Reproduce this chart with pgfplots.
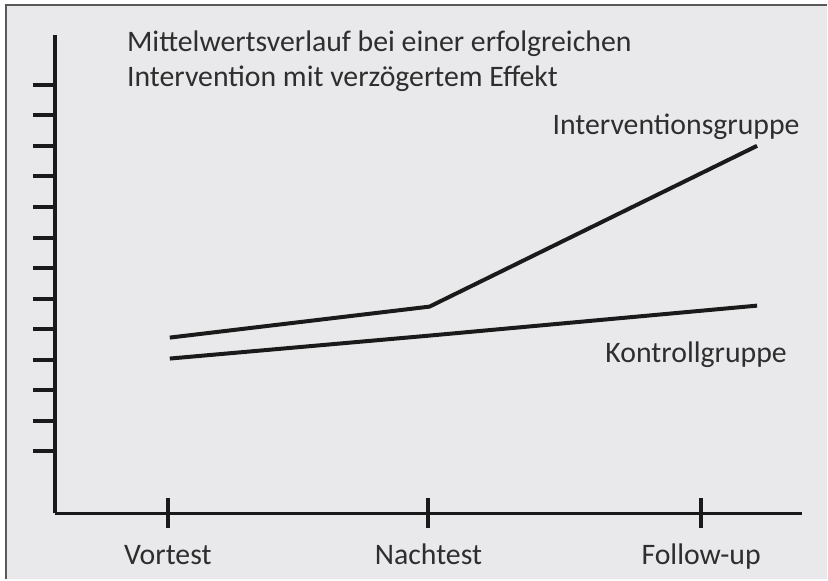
\documentclass[border=0pt]{standalone}
\usepackage{pgfplots}
\pgfplotsset{compat=1.18}
\usepackage{fontspec}
\setmainfont{Carlito}
\definecolor{panel}{HTML}{E9E9EB}
\definecolor{txt}{HTML}{2E2E2E}
\definecolor{ln}{HTML}{1A1A1A}
\newcommand{\fs}{\fontsize{29.8bp}{34bp}\selectfont}
\begin{document}
\begin{tikzpicture}
\fill[white] (0,0) rectangle (828bp,580bp);
\fill[panel] (6bp,0) rectangle (828bp,575bp);
\draw[line width=2bp, color=black!65] (6bp,0) -- (6bp,575bp) -- (828bp,575bp);
\begin{axis}[
  at={(55bp,66bp)}, anchor=south west,
  x=1bp, y=1bp, xmin=55, xmax=803, ymin=66, ymax=545,
  axis lines*=left,
  axis line style={line width=3.5bp, ln},
  clip=false,
  xtick={168,429,702},
  xticklabels={Vortest,Nachtest,Follow-up},
  ytick={128,158.6,189.2,219.8,250.4,281,311.6,342.2,372.8,403.4,434,464.6,495.2},
  yticklabels={},
  tick align=center,
  major tick length=22bp,
  xtick style={line width=4bp, ln, /pgfplots/major tick length=30bp},
  ytick style={line width=4bp, ln, xshift=-11bp},
  xticklabel style={font=\fs, text=txt, anchor=base, yshift=-40bp, inner sep=0pt},
]
\addplot[ln, line width=4bp, line join=round] coordinates {(170,242) (430,273) (758,434)};
\addplot[ln, line width=4bp] coordinates {(170,221) (430,244) (758,274)};
\node[anchor=base west, inner sep=0pt, text=txt, font=\fs] at (axis cs:127,528) {Mittelwertsverlauf bei einer erfolgreichen};
\node[anchor=base west, inner sep=0pt, text=txt, font=\fs] at (axis cs:127,493) {Intervention mit verzögertem Effekt};
\node[anchor=base west, inner sep=0pt, text=txt, font=\fs] at (axis cs:553,445) {Interventionsgruppe};
\node[anchor=base west, inner sep=0pt, text=txt, font=\fs] at (axis cs:606,217) {Kontrollgruppe};
\end{axis}
\end{tikzpicture}
\end{document}
